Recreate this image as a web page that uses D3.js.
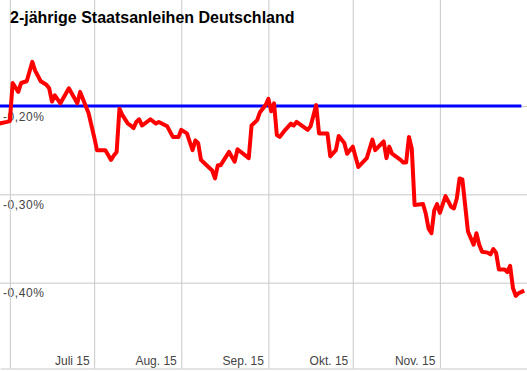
<!DOCTYPE html>
<html>
<head>
<meta charset="utf-8">
<script src="https://cdn.jsdelivr.net/npm/d3@7"></script>
<style>
  html, body { margin: 0; padding: 0; background: #fff; }
  svg { display: block; }
  text { font-family: "Liberation Sans", Arial, sans-serif; }
</style>
</head>
<body>
<script>
const title = "2-jährige Staatsanleihen Deutschland";

const dates = [
"2015-05-28","2015-05-31","2015-06-01","2015-06-02","2015-06-04","2015-06-05","2015-06-07","2015-06-09","2015-06-10","2015-06-12",
"2015-06-14","2015-06-15","2015-06-16","2015-06-17","2015-06-19","2015-06-22","2015-06-25","2015-06-26","2015-06-28","2015-06-29",
"2015-07-01","2015-07-02","2015-07-05","2015-07-07","2015-07-08","2015-07-09","2015-07-10","2015-07-11","2015-07-13","2015-07-14",
"2015-07-15","2015-07-16","2015-07-17","2015-07-18","2015-07-19","2015-07-21","2015-07-23","2015-07-24","2015-07-27","2015-07-29",
"2015-07-31","2015-08-01","2015-08-03","2015-08-05","2015-08-06","2015-08-07","2015-08-08","2015-08-10","2015-08-12","2015-08-13",
"2015-08-14","2015-08-15","2015-08-18","2015-08-20","2015-08-21","2015-08-25","2015-08-26","2015-08-28","2015-08-29","2015-08-31",
"2015-09-01","2015-09-02","2015-09-03","2015-09-04","2015-09-05","2015-09-07","2015-09-09","2015-09-10","2015-09-11","2015-09-15",
"2015-09-16","2015-09-18","2015-09-19","2015-09-22","2015-09-23","2015-09-25","2015-09-26","2015-09-28","2015-09-29","2015-10-01",
"2015-10-03","2015-10-06","2015-10-08","2015-10-09","2015-10-12","2015-10-13","2015-10-14","2015-10-15","2015-10-18","2015-10-19",
"2015-10-20","2015-10-21","2015-10-22","2015-10-23","2015-10-26","2015-10-27","2015-10-28","2015-10-29","2015-10-30","2015-10-31",
"2015-11-01","2015-11-03","2015-11-05","2015-11-06","2015-11-07","2015-11-08","2015-11-09","2015-11-11","2015-11-13","2015-11-14",
"2015-11-15","2015-11-16","2015-11-18","2015-11-19","2015-11-20","2015-11-21","2015-11-22","2015-11-24","2015-11-25","2015-11-26",
"2015-11-27","2015-11-28","2015-11-29","2015-12-01"
];

const yields = [
-0.220,-0.218,-0.217,-0.174,-0.184,-0.174,-0.172,-0.150,-0.160,-0.172,
-0.176,-0.180,-0.195,-0.188,-0.197,-0.180,-0.197,-0.184,-0.200,-0.208,
-0.235,-0.250,-0.250,-0.261,-0.256,-0.252,-0.203,-0.210,-0.220,-0.222,
-0.225,-0.218,-0.215,-0.222,-0.220,-0.215,-0.220,-0.218,-0.223,-0.235,
-0.235,-0.227,-0.231,-0.250,-0.239,-0.242,-0.261,-0.267,-0.273,-0.282,
-0.267,-0.267,-0.252,-0.263,-0.249,-0.259,-0.222,-0.216,-0.207,-0.199,
-0.192,-0.206,-0.197,-0.233,-0.235,-0.227,-0.220,-0.222,-0.218,-0.227,
-0.223,-0.199,-0.231,-0.231,-0.257,-0.250,-0.234,-0.242,-0.254,-0.246,
-0.269,-0.259,-0.238,-0.250,-0.240,-0.259,-0.246,-0.254,-0.261,-0.264,
-0.264,-0.235,-0.248,-0.312,-0.311,-0.322,-0.339,-0.344,-0.318,-0.311,
-0.321,-0.302,-0.314,-0.316,-0.305,-0.282,-0.283,-0.342,-0.357,-0.344,
-0.357,-0.365,-0.366,-0.368,-0.362,-0.366,-0.385,-0.385,-0.388,-0.381,
-0.406,-0.415,-0.412,-0.409
];

// reference line (ECB deposit rate)
const refDates = ["2015-05-28", "2015-11-30"];
const refValues = [-0.20, -0.20];

const monthTicks = ["2015-06-01","2015-07-01","2015-08-01","2015-09-01","2015-10-01","2015-11-01"];
const monthLabels = ["", "Juli 15", "Aug. 15", "Sep. 15", "Okt. 15", "Nov. 15"];
const yTicks = [-0.20, -0.30, -0.40];

const W = 527, H = 371;
const parse = d3.timeParse("%Y-%m-%d");
const de = d3.formatLocale({decimal: ",", thousands: ".", grouping: [3], currency: ["", " €"], minus: "-"});
const fmt = de.format(".2f");

const x = d3.scaleTime()
  .domain([new Date(2015, 4, 28, 12), new Date(2015, 11, 2)])
  .range([0, W]);
const y = d3.scaleLinear().domain([-0.5, -0.08]).range([H, 0]);

const svg = d3.select("body").append("svg").attr("width", W).attr("height", H);

const gridColor = "#c8c8c8";
const labelColor = "#444";

// Y axis (horizontal gridlines + labels)
const gy = svg.append("g")
  .call(d3.axisRight(y).tickValues(yTicks).tickSize(W).tickFormat(d => fmt(d) + "%"));
gy.select(".domain").remove();
gy.selectAll(".tick line").attr("stroke", gridColor);
gy.selectAll(".tick text")
  .attr("x", 3).attr("dy", 14).attr("text-anchor", "start")
  .attr("fill", labelColor).style("font-size", "12px")
  .style("letter-spacing", "0.6px")
  .style("font-family", '"Liberation Sans", Arial, sans-serif');

// X axis (vertical gridlines + labels)
const tickDates = monthTicks.map(parse);
const gx = svg.append("g")
  .attr("transform", `translate(0,${H - 2.5})`)
  .call(d3.axisBottom(x).tickValues(tickDates).tickSizeInner(-(H - 2)).tickSizeOuter(0)
    .tickFormat((d, i) => monthLabels[i]));
gx.select(".domain").attr("stroke", gridColor);
gx.selectAll(".tick line").attr("stroke", gridColor);
gx.selectAll(".tick text")
  .attr("x", -5).attr("y", -4).attr("dy", 0).attr("text-anchor", "end")
  .attr("fill", labelColor).style("font-size", "12px")
  .style("font-family", '"Liberation Sans", Arial, sans-serif');

// Title
svg.append("text")
  .attr("x", 10).attr("y", 23)
  .attr("fill", "#000")
  .style("font-size", "16px").style("font-weight", "bold")
  .text(title);

// Reference line
const refData = refDates.map((d, i) => ({date: parse(d), value: refValues[i]}));
svg.append("path")
  .datum(refData)
  .attr("fill", "none").attr("stroke", "#0000ff").attr("stroke-width", 3)
  .attr("d", d3.line().x(d => x(d.date)).y(d => y(d.value)));

// Yield line
const data = dates.map((d, i) => ({date: parse(d), value: yields[i]}));
svg.append("path")
  .datum(data)
  .attr("fill", "none").attr("stroke", "#ff0000").attr("stroke-width", 4)
  .attr("stroke-linejoin", "round")
  .attr("d", d3.line().x(d => x(d.date)).y(d => y(d.value)));
</script>
</body>
</html>
